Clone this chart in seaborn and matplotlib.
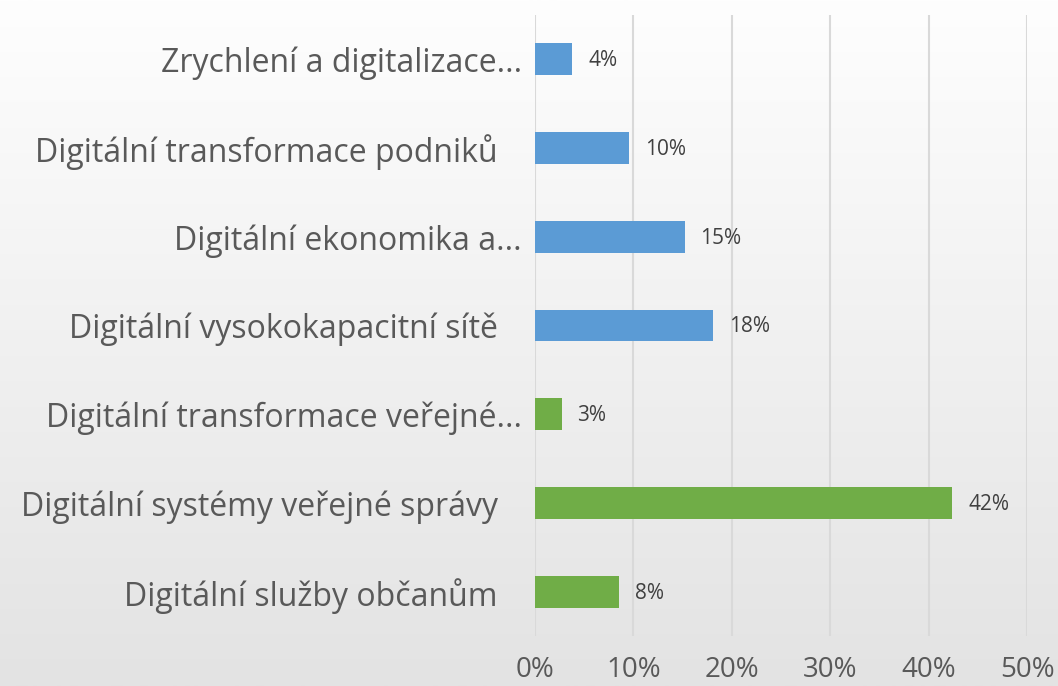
import numpy as np
import pandas as pd
import matplotlib
matplotlib.use("Agg")
import matplotlib.pyplot as plt
import seaborn as sns
from matplotlib.colors import LinearSegmentedColormap

categories = [
    "Zrychlení a digitalizace...",
    "Digitální transformace podniků",
    "Digitální ekonomika a...",
    "Digitální vysokokapacitní sítě",
    "Digitální transformace veřejné...",
    "Digitální systémy veřejné správy",
    "Digitální služby občanům",
]
values = [3.8, 9.6, 15.2, 18.1, 2.7, 42.4, 8.5]
bar_colors = ["#5B9BD5", "#5B9BD5", "#5B9BD5", "#5B9BD5", "#70AD47", "#70AD47", "#70AD47"]
x_ticks = [0, 10, 20, 30, 40, 50]
x_tick_labels = ["0%", "10%", "20%", "30%", "40%", "50%"]

df = pd.DataFrame({"cat": categories, "val": values})

sns.set_theme(style="white")
plt.rcParams["font.family"] = ["Open Sans", "DejaVu Sans"]

fig = plt.figure(figsize=(10.58, 6.86), dpi=100)

# gradient background
bg = fig.add_axes([0, 0, 1, 1], zorder=-10)
grad = np.linspace(0, 1, 256).reshape(-1, 1)
cmap = LinearSegmentedColormap.from_list("bg", ["#fefefe", "#e3e3e3"])
bg.imshow(grad, aspect="auto", cmap=cmap, extent=[0, 1, 0, 1], origin="upper")
bg.set_axis_off()

ax = fig.add_axes([535 / 1058, 1 - 636 / 686, (1027 - 535) / 1058, (636 - 15) / 686])
ax.patch.set_alpha(0)

sns.barplot(data=df, y="cat", x="val", hue="cat", palette=bar_colors,
            legend=False, width=0.36, orient="h", ax=ax, saturation=1, linewidth=0)

ax.set_xlim(0, 50)
ax.set_ylim(6.5, -0.5)
ax.set_xticks(x_ticks)
ax.set_xticklabels(x_tick_labels)
ax.set_xlabel("")
ax.set_ylabel("")
for s in ax.spines.values():
    s.set_visible(False)
ax.grid(axis="x", color="#d9d9d9", linewidth=1.5)
ax.set_axisbelow(True)
ax.tick_params(axis="x", length=0, pad=14.5, labelsize=20, labelcolor="#595959")
ax.tick_params(axis="y", length=0, labelsize=23, labelcolor="#595959")

for lbl, tick in zip(categories, ax.yaxis.get_major_ticks()):
    tick.set_pad(9.5 if lbl.endswith("...") else 27)

for i, v in enumerate(values):
    ax.annotate(f"{round(v):d}%", xy=(v, i), xytext=(11.5, -1), textcoords="offset points",
                va="center", ha="left", fontsize=15, color="#404040")

fig.savefig("out.png", dpi=100)
